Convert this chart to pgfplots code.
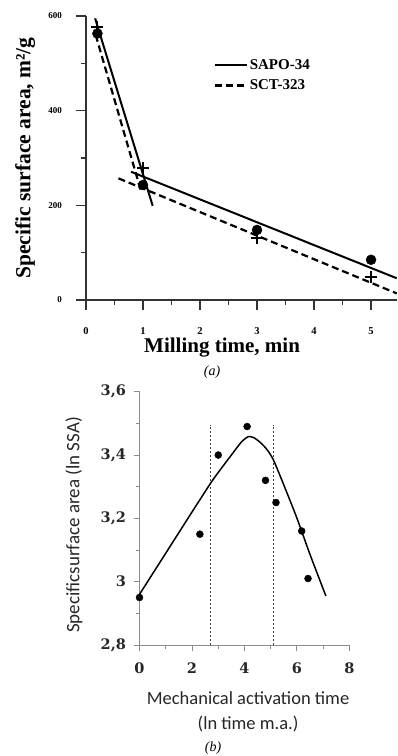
\documentclass[border=0pt]{standalone}
\usepackage{pgfplots}
\pgfplotsset{compat=1.18}
\usepackage{fontspec}
\setmainfont{Liberation Serif}
\newfontfamily\carlito{Carlito}
\newfontfamily\djserif{DejaVu Serif}
\begin{document}
\begin{tikzpicture}[x=1pt,y=1pt]
\path[use as bounding box] (0,0) rectangle (397,-756);
% ---------------- panel (a)
\begin{axis}[
  at={(86pt,-300pt)}, anchor=south west, scale only axis,
  width=310.7pt, height=284pt,
  xmin=0, xmax=5.45, ymin=0, ymax=600,
  axis lines=left, axis line style={-, line width=1.2pt, black!80},
  clip=false,
  xtick={0,1,2,3,4,5}, ytick={0,200,400,600},
  minor xtick={0.5,1.5,2.5,3.5,4.5}, minor ytick={100,300,500},
  tick align=outside, major tick length=10pt, minor tick length=5pt,
  tick style={line width=1.2pt, black!80},
  /pgf/number format/assume math mode=true,
  yticklabel style={font=\bfseries\fontsize{9}{9}\selectfont},
  xticklabel style={font=\bfseries\fontsize{10.5}{10.5}\selectfont},
  xticklabel shift=14pt, yticklabel shift=10.5pt,
  xlabel={Milling time, min},
  ylabel={Specific surface area, m²/g},
  xlabel style={font=\bfseries\fontsize{21}{21}\selectfont, at={(axis description cs:0.438,-0.167)}, anchor=center},
  ylabel style={font=\bfseries\fontsize{21.5}{21.5}\selectfont, at={(axis description cs:-0.196,0.5)}, anchor=center},
  legend style={at={(axis description cs:0.41,0.855)}, anchor=north west, draw=none, fill=none,
    font=\bfseries\fontsize{15}{15}\selectfont, row sep=5pt, inner sep=0pt},
  legend cell align=left,
  legend image code/.code={\draw[#1] (0pt,0pt) -- (32pt,0pt);},
]
\addplot[black, line width=2pt] coordinates {(0.16,595) (1.17,199)};
\addlegendentry{SAPO-34}
\addplot[black, line width=2.2pt, dash pattern=on 7pt off 4pt] coordinates {(0.17,560) (0.97,228)};
\addlegendentry{SCT-323}
\addplot[black, line width=2pt, forget plot] coordinates {(0.79,271) (5.45,46)};
\addplot[black, line width=2.2pt, dash pattern=on 7pt off 4pt, forget plot] coordinates {(0.57,257) (5.45,14)};
\addplot[only marks, mark=*, mark size=5pt, black, forget plot] coordinates {(0.2,563) (1,243) (3,148) (5,85)};
\addplot[only marks, mark=+, mark size=6pt, black, line width=2pt, forget plot] coordinates {(0.2,577) (1,278) (3,130) (5,49)};
\end{axis}
\node[font=\itshape\fontsize{14}{14}\selectfont] at (212,-372) {(a)};
% ---------------- panel (b)
\begin{axis}[
  at={(139.5pt,-645pt)}, anchor=south west, scale only axis,
  width=210pt, height=253.3pt,
  xmin=0, xmax=8, ymin=2.8, ymax=3.6,
  axis lines=left, axis line style={-, line width=1pt, black!45},
  clip=false,
  xtick={0,2,4,6,8}, minor xtick={1,3,5,7},
  ytick={2.8,3,3.2,3.4,3.6}, minor ytick={2.9,3.1,3.3,3.5},
  tick align=outside, major tick length=6pt, minor tick length=3.5pt,
  tick style={line width=1pt, black!45},
  /pgf/number format/assume math mode=true,
  /pgf/number format/use comma, /pgf/number format/fixed, /pgf/number format/precision=1,
  yticklabel style={font=\djserif\bfseries\fontsize{14.5}{14.5}\selectfont, text=black!85, xshift=-4pt},
  xticklabel style={font=\djserif\bfseries\fontsize{14.5}{14.5}\selectfont, text=black!85, yshift=-8pt},
  xlabel={Mechanical activation time\\(ln time m.a.)},
  ylabel={Specificsurface area (ln SSA)},
  xlabel style={font=\carlito\fontsize{18.5}{25}\selectfont, align=center, text=black!85,
    at={(axis description cs:0.517,-0.171)}, anchor=north},
  ylabel style={font=\carlito\fontsize{19}{19}\selectfont, text=black!85,
    at={(axis description cs:-0.312,0.474)}, anchor=center},
]
\addplot[black!75, line width=1.2pt, dash pattern=on 2.2pt off 1.8pt] coordinates {(2.7,2.8) (2.7,3.495)};
\addplot[black!75, line width=1.2pt, dash pattern=on 2.2pt off 1.8pt] coordinates {(5.1,2.8) (5.1,3.495)};
\addplot[black, line width=1.5pt, smooth, tension=0.4] coordinates {
 (0,2.96) (1,3.09) (2,3.22) (2.7,3.31) (3.0,3.345) (3.5,3.40) (3.9,3.443) (4.15,3.458)
 (4.35,3.455) (4.6,3.44) (4.85,3.418) (5.1,3.385) (5.5,3.305) (6.0,3.20) (6.5,3.085) (7.1,2.955)};
\addplot[only marks, mark=*, mark size=3.5pt, black] coordinates {
 (0,2.95) (2.3,3.15) (3.0,3.40) (4.1,3.49) (4.8,3.32) (5.2,3.25) (6.18,3.16) (6.42,3.01)};
\end{axis}
\node[font=\itshape\fontsize{14}{14}\selectfont] at (213,-748) {(b)};
\end{tikzpicture}
\end{document}
